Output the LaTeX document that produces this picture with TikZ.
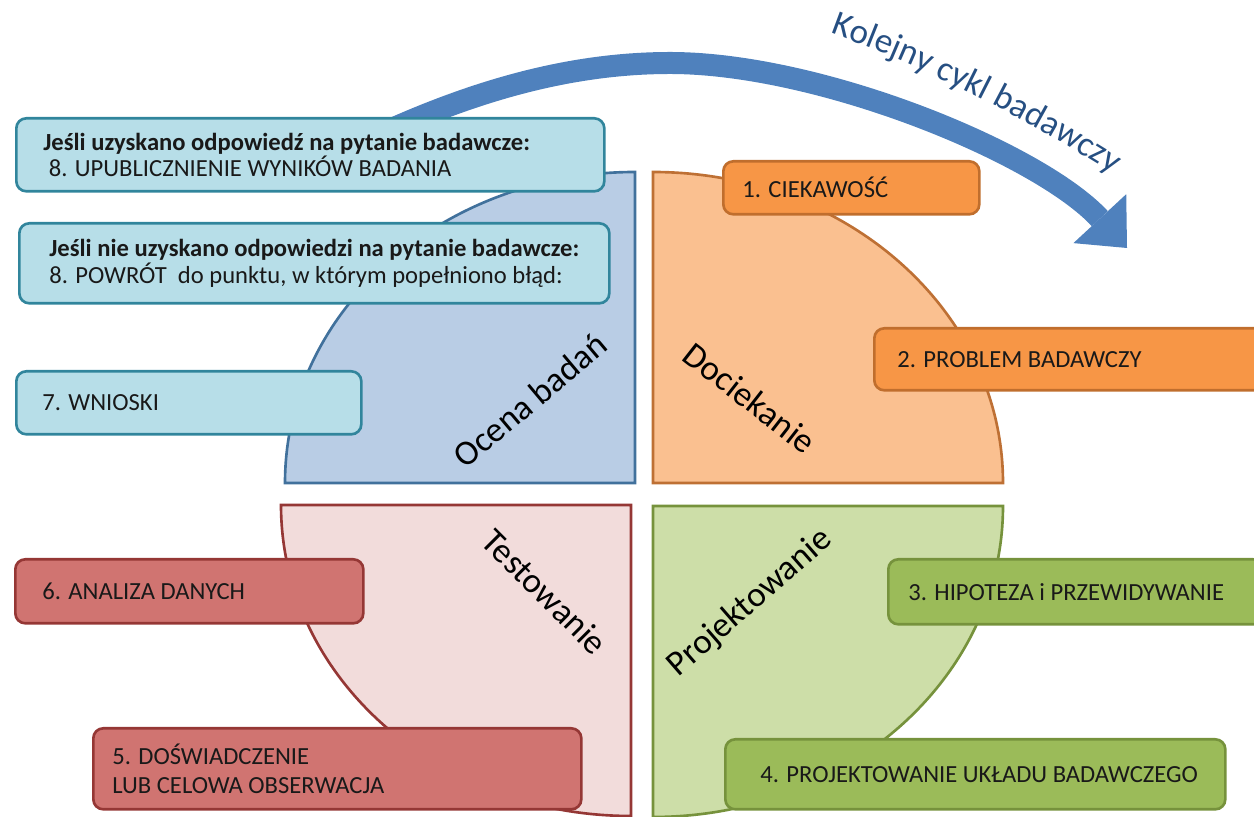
\documentclass[tikz,border=0pt]{standalone}
\usepackage{fontspec}
\setmainfont{Carlito}
\usetikzlibrary{arrows.meta, positioning, decorations.text}

\definecolor{quadblue}{RGB}{185,205,229}
\definecolor{quadblueline}{RGB}{65,113,156}
\definecolor{quadorange}{RGB}{250,192,144}
\definecolor{quadorangeline}{RGB}{190,112,52}
\definecolor{quadpink}{RGB}{242,220,219}
\definecolor{quadpinkline}{RGB}{149,55,53}
\definecolor{quadgreen}{RGB}{205,222,168}
\definecolor{quadgreenline}{RGB}{118,146,60}
\definecolor{evalfill}{RGB}{183,222,232}
\definecolor{evalline}{RGB}{49,133,156}
\definecolor{inqfill}{RGB}{247,150,70}
\definecolor{inqline}{RGB}{192,110,45}
\definecolor{designfill}{RGB}{155,187,89}
\definecolor{designline}{RGB}{118,146,60}
\definecolor{testfill}{RGB}{208,116,113}
\definecolor{testline}{RGB}{149,55,53}
\definecolor{arrowblue}{RGB}{79,129,189}
\definecolor{cycleblue}{RGB}{38,79,130}
\definecolor{textdark}{RGB}{25,25,25}

\newcommand{\cyclefont}{\fontsize{20}{24}\selectfont}

\tikzset{
    quarter/.style={line width=1.5pt},
    phase/.style={font=\fontsize{20}{24}\selectfont, text=black},
    stepbox/.style={rounded corners=0.2cm, line width=1.5pt, anchor=north west, inner sep=0pt},
    steptext/.style={inner sep=0pt, align=left, text=textdark, font=\fontsize{14}{17}\selectfont},
    tightlines/.style={font=\fontsize{14}{13.8}\selectfont},
    evalbox/.style={stepbox, fill=evalfill, draw=evalline},
    inqbox/.style={stepbox, fill=inqfill, draw=inqline},
    designbox/.style={stepbox, fill=designfill, draw=designline},
    testbox/.style={stepbox, fill=testfill, draw=testline},
    cyclearrow/.style={draw=arrowblue, line width=0.44cm,
        -{Triangle[length=0.8cm, width=1.44cm, line width=0pt]}}
}

\begin{document}
\begin{tikzpicture}
    \useasboundingbox (0,0) rectangle (25.08,16.34);

    % Four quarters of the cycle
    \coordinate (ocena) at (12.70,6.68);
    \coordinate (docie) at (13.06,6.68);
    \coordinate (testo) at (12.62,6.24);
    \coordinate (proje) at (13.06,6.22);

    \draw[quarter, fill=quadblue, draw=quadblueline] (ocena) -- ++(-7,0)
        arc[start angle=180, end angle=90, x radius=7, y radius=6.22] -- cycle;
    \draw[quarter, fill=quadorange, draw=quadorangeline] (docie) -- ++(7,0)
        arc[start angle=0, end angle=90, x radius=7, y radius=6.22] -- cycle;
    \draw[quarter, fill=quadpink, draw=quadpinkline] (testo) -- ++(-7,0)
        arc[start angle=180, end angle=270, x radius=7, y radius=6.22] -- cycle;
    \draw[quarter, fill=quadgreen, draw=quadgreenline] (proje) -- ++(7,0)
        arc[start angle=0, end angle=-90, x radius=7, y radius=6.22] -- cycle;

    \node[phase, rotate=40] (ocenalbl) at (10.60,8.34) {Ocena badań};
    \node[phase, rotate=-38] (docielbl) at (15.00,8.38) {Dociekanie};
    \node[phase, rotate=-45] (testolbl) at (10.90,4.50) {Testowanie};
    \node[phase, rotate=41] (projelbl) at (15.00,4.28) {Projektowanie};

    % Next cycle arrow
    \coordinate (cyclestart) at (7.70,13.70);
    \coordinate (cycleend) at (22.54,11.38);
    \draw[cyclearrow] (cyclestart) .. controls (9.52,14.52) and (11.40,15.08) .. (13.40,15.08)
        .. controls (16.40,15.08) and (20.78,13.28) .. (cycleend);
    \path[decorate, decoration={text along path, text align=center, text color=cycleblue,
        text={|\cyclefont|Kolejny cykl badawczy}}]
        (16.56,15.70) .. controls (18.56,14.98) and (20.50,13.98) .. (22.30,12.84);

    % Evaluation steps
    \node[evalbox, minimum width=11.76cm, minimum height=1.46cm] (upub) at (0.30,14.00) {};
    \node[steptext, tightlines, right=0.56cm of upub.west] (upubtxt)
        {\textbf{Jeśli uzyskano odpowiedź na pytanie badawcze:}\\\hspace*{0.11cm}8. UPUBLICZNIENIE WYNIKÓW BADANIA};
    \node[evalbox, minimum width=11.80cm, minimum height=1.60cm] (powrot) at (0.36,11.90) {};
    \node[steptext, tightlines, right=0.62cm of powrot.west] (powrottxt)
        {\textbf{Jeśli nie uzyskano odpowiedzi na pytanie badawcze:}\\8. POWRÓT~ do punktu, w którym popełniono błąd:};
    \node[evalbox, minimum width=6.90cm, minimum height=1.26cm] (wnioski) at (0.30,8.94) {};
    \node[steptext, right=0.54cm of wnioski.west] (wnioskitxt) {7. WNIOSKI};

    % Inquiry steps
    \node[inqbox, minimum width=5.12cm, minimum height=1.06cm] (ciekaw) at (14.44,13.14) {};
    \node[steptext, right=0.40cm of ciekaw.west] (ciekawtxt) {1. CIEKAWOŚĆ};
    \node[inqbox, minimum width=7.80cm, minimum height=1.24cm] (problem) at (17.46,9.80) {};
    \node[steptext, right=0.48cm of problem.west] (problemtxt) {2. PROBLEM BADAWCZY};

    % Design steps
    \node[designbox, minimum width=7.50cm, minimum height=1.30cm] (hipoteza) at (17.74,5.18) {};
    \node[steptext, right=0.42cm of hipoteza.west] (hipotezatxt) {3. HIPOTEZA i PRZEWIDYWANIE};
    \node[designbox, minimum width=10.00cm, minimum height=1.40cm] (uklad) at (14.48,1.58) {};
    \node[steptext, right=0.72cm of uklad.west] (ukladtxt) {4. PROJEKTOWANIE UKŁADU BADAWCZEGO};

    % Testing steps
    \node[testbox, minimum width=9.76cm, minimum height=1.62cm] (doswiad) at (1.84,1.80) {};
    \node[steptext, right=0.40cm of doswiad.west] (doswiadtxt) {5. DOŚWIADCZENIE\\LUB CELOWA OBSERWACJA};
    \node[testbox, minimum width=6.96cm, minimum height=1.28cm] (analiza) at (0.28,5.18) {};
    \node[steptext, right=0.56cm of analiza.west] (analizatxt) {6. ANALIZA DANYCH};
\end{tikzpicture}
\end{document}
